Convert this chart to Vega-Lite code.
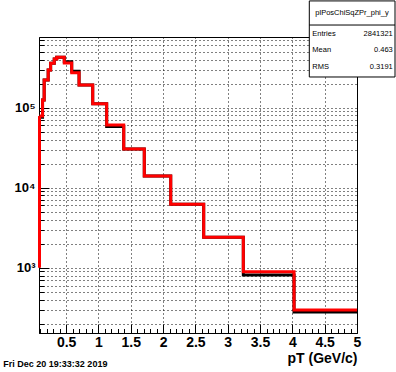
{
  "$schema": "https://vega.github.io/schema/vega-lite/v6.json",
  "width": 318,
  "height": 296,
  "autosize": {"type": "none"},
  "padding": {"left": 39, "top": 37, "right": 39, "bottom": 39},
  "background": "white",
  "config": {
    "view": {"stroke": "black", "strokeWidth": 1},
    "font": "Liberation Sans"
  },
  "datasets": {
    "bins": [
      {"lo": 0.088, "hi": 0.135, "red": 78700, "black": 76000},
      {"lo": 0.135, "hi": 0.16, "red": 124800, "black": 124800},
      {"lo": 0.16, "hi": 0.222, "red": 222000, "black": 222000},
      {"lo": 0.222, "hi": 0.26, "red": 296000, "black": 296000},
      {"lo": 0.26, "hi": 0.316, "red": 359000, "black": 359000},
      {"lo": 0.316, "hi": 0.354, "red": 406000, "black": 406000},
      {"lo": 0.354, "hi": 0.471, "red": 427000, "black": 427000},
      {"lo": 0.471, "hi": 0.586, "red": 362000, "black": 375000},
      {"lo": 0.586, "hi": 0.7, "red": 274000, "black": 285000},
      {"lo": 0.7, "hi": 0.911, "red": 192000, "black": 192000},
      {"lo": 0.911, "hi": 1.127, "red": 112000, "black": 112000},
      {"lo": 1.127, "hi": 1.391, "red": 60800, "black": 58200},
      {"lo": 1.391, "hi": 1.709, "red": 30500, "black": 30500},
      {"lo": 1.709, "hi": 2.118, "red": 14000, "black": 14000},
      {"lo": 2.118, "hi": 2.628, "red": 6200, "black": 6200},
      {"lo": 2.628, "hi": 3.241, "red": 2400, "black": 2400},
      {"lo": 3.241, "hi": 4.026, "red": 891, "black": 811},
      {"lo": 4.026, "hi": 5.0, "red": 296, "black": 279}
    ]
  },
  "layer": [
    {
      "data": {"name": "bins"},
      "transform": [
        {"fold": ["lo", "hi"], "as": ["edge", "x"]},
        {"window": [{"op": "row_number", "as": "k"}], "sort": [{"field": "x", "order": "ascending"}, {"field": "edge", "order": "ascending"}]}
      ],
      "mark": {"type": "line", "color": "black", "strokeWidth": 3, "strokeJoin": "miter"},
      "encoding": {
        "x": {
          "field": "x",
          "type": "quantitative",
          "scale": {"domain": [0.08, 5], "nice": false, "zero": false},
          "axis": {
            "values": [0.1, 0.2, 0.3, 0.4, 0.5, 0.6, 0.7, 0.8, 0.9, 1, 1.1, 1.2, 1.3, 1.4, 1.5, 1.6, 1.7, 1.8, 1.9, 2, 2.1, 2.2, 2.3, 2.4, 2.5, 2.6, 2.7, 2.8, 2.9, 3, 3.1, 3.2, 3.3, 3.4, 3.5, 3.6, 3.7, 3.8, 3.9, 4, 4.1, 4.2, 4.3, 4.4, 4.5, 4.6, 4.7, 4.8, 4.9, 5],
            "tickCount": 200,
            "title": "pT (GeV/c)",
            "titleFont": "Liberation Sans",
            "titleFontSize": 14,
            "titleFontWeight": "bold",
            "titleColor": "black",
            "titleAnchor": "end",
            "titleAlign": "right",
            "titleBaseline": "alphabetic",
            "titleY": 29,
            "labelExpr": "abs(datum.value*2-round(datum.value*2))<0.001 ? ''+datum.value : ''",
            "labelFont": "Liberation Sans",
            "labelFontSize": 14,
            "labelFontWeight": "bold",
            "labelColor": "black",
            "labelPadding": 11,
            "labelOverlap": false,
            "labelFlush": false,
            "tickColor": "black",
            "tickSize": {"condition": {"test": "abs(datum.value*2-round(datum.value*2))<0.001", "value": -9}, "value": -4.5},
            "domainColor": "black",
            "grid": true,
            "gridColor": "black",
            "gridDash": [1, 3],
            "gridOpacity": {"condition": {"test": "abs(datum.value*2-round(datum.value*2))<0.001", "value": 1}, "value": 0}
          }
        },
        "y": {
          "field": "black",
          "type": "quantitative",
          "scale": {"type": "log", "domain": [153, 765000], "nice": false},
          "axis": {
            "values": [200, 300, 400, 500, 600, 700, 800, 900, 1000, 2000, 3000, 4000, 5000, 6000, 7000, 8000, 9000, 10000, 20000, 30000, 40000, 50000, 60000, 70000, 80000, 90000, 100000, 200000, 300000, 400000, 500000, 600000, 700000],
            "tickCount": 200,
            "title": null,
            "labelExpr": "abs(log(datum.value)/LN10-round(log(datum.value)/LN10))<0.001 ? '10' + ['⁰','¹','²','³','⁴','⁵','⁶','⁷'][round(log(datum.value)/LN10)] : ''",
            "labelFont": "Liberation Sans",
            "labelFontSize": 13,
            "labelFontWeight": "bold",
            "labelColor": "black",
            "labelPadding": 14,
            "labelOverlap": false,
            "labelFlush": false,
            "tickColor": "black",
            "tickSize": {"condition": {"test": "abs(log(datum.value)/LN10-round(log(datum.value)/LN10))<0.001", "value": -10}, "value": -5},
            "domainColor": "black",
            "grid": true,
            "gridColor": "black",
            "gridDash": [1, 3],
            "gridOpacity": 1
          }
        },
        "order": {"field": "k", "type": "quantitative"}
      }
    },
    {
      "data": {"name": "bins"},
      "transform": [
        {"fold": ["lo", "hi"], "as": ["edge", "x"]},
        {"window": [{"op": "row_number", "as": "k"}], "sort": [{"field": "x", "order": "ascending"}, {"field": "edge", "order": "ascending"}]}
      ],
      "mark": {"type": "line", "color": "#ff0000", "strokeWidth": 3, "strokeJoin": "miter"},
      "encoding": {
        "x": {"field": "x", "type": "quantitative"},
        "y": {"field": "red", "type": "quantitative"},
        "order": {"field": "k", "type": "quantitative"}
      }
    },
    {
      "data": {"name": "bins"},
      "transform": [{"filter": "datum.lo < 0.1"}],
      "mark": {"type": "rule", "color": "#ff0000", "strokeWidth": 3},
      "encoding": {
        "x": {"field": "lo", "type": "quantitative"},
        "y": {"field": "red", "type": "quantitative"},
        "y2": {"datum": 1000}
      }
    },
    {
      "data": {"values": [{"name": "plPosChiSqZPr_phi_y"}]},
      "layer": [
        {
          "mark": {"type": "rect", "fill": "white", "stroke": "black", "strokeWidth": 1},
          "encoding": {
            "x": {"datum": 4.262, "type": "quantitative"},
            "x2": {"datum": 5.588},
            "y": {"datum": 2160000, "type": "quantitative"},
            "y2": {"datum": 242000}
          }
        },
        {
          "mark": {"type": "rule", "color": "black", "strokeWidth": 1},
          "encoding": {
            "x": {"datum": 4.262, "type": "quantitative"},
            "x2": {"datum": 5.588},
            "y": {"datum": 1080000, "type": "quantitative"}
          }
        },
        {
          "mark": {"type": "text", "fontSize": 7.5, "align": "center", "baseline": "middle", "color": "black"},
          "encoding": {
            "x": {"datum": 4.923, "type": "quantitative"},
            "y": {"datum": 1515000, "type": "quantitative"},
            "text": {"field": "name", "type": "nominal"}
          }
        }
      ]
    },
    {
      "data": {"values": [{"stat": "Entries", "val": "2841321"}]},
      "layer": [
        {"mark": {"type": "text", "fontSize": 7.5, "align": "left", "baseline": "middle", "color": "black"},
         "encoding": {"x": {"datum": 4.309, "type": "quantitative"}, "y": {"datum": 828000, "type": "quantitative"}, "text": {"field": "stat", "type": "nominal"}}},
        {"mark": {"type": "text", "fontSize": 7.5, "align": "right", "baseline": "middle", "color": "black"},
         "encoding": {"x": {"datum": 5.553, "type": "quantitative"}, "y": {"datum": 828000, "type": "quantitative"}, "text": {"field": "val", "type": "nominal"}}}
      ]
    },
    {
      "data": {"values": [{"stat": "Mean", "val": "0.463"}]},
      "layer": [
        {"mark": {"type": "text", "fontSize": 7.5, "align": "left", "baseline": "middle", "color": "black"},
         "encoding": {"x": {"datum": 4.309, "type": "quantitative"}, "y": {"datum": 527000, "type": "quantitative"}, "text": {"field": "stat", "type": "nominal"}}},
        {"mark": {"type": "text", "fontSize": 7.5, "align": "right", "baseline": "middle", "color": "black"},
         "encoding": {"x": {"datum": 5.553, "type": "quantitative"}, "y": {"datum": 527000, "type": "quantitative"}, "text": {"field": "val", "type": "nominal"}}}
      ]
    },
    {
      "data": {"values": [{"stat": "RMS", "val": "0.3191"}]},
      "layer": [
        {"mark": {"type": "text", "fontSize": 7.5, "align": "left", "baseline": "middle", "color": "black"},
         "encoding": {"x": {"datum": 4.309, "type": "quantitative"}, "y": {"datum": 326000, "type": "quantitative"}, "text": {"field": "stat", "type": "nominal"}}},
        {"mark": {"type": "text", "fontSize": 7.5, "align": "right", "baseline": "middle", "color": "black"},
         "encoding": {"x": {"datum": 5.553, "type": "quantitative"}, "y": {"datum": 326000, "type": "quantitative"}, "text": {"field": "val", "type": "nominal"}}}
      ]
    },
    {
      "data": {"values": [{"stamp": "Fri Dec 20 19:33:32 2019"}]},
      "mark": {"type": "text", "fontSize": 9, "fontWeight": "bold", "align": "left", "baseline": "middle", "color": "black"},
      "encoding": {
        "x": {"datum": -0.472, "type": "quantitative"},
        "y": {"datum": 62.1, "type": "quantitative"},
        "text": {"field": "stamp", "type": "nominal"}
      }
    }
  ]
}
